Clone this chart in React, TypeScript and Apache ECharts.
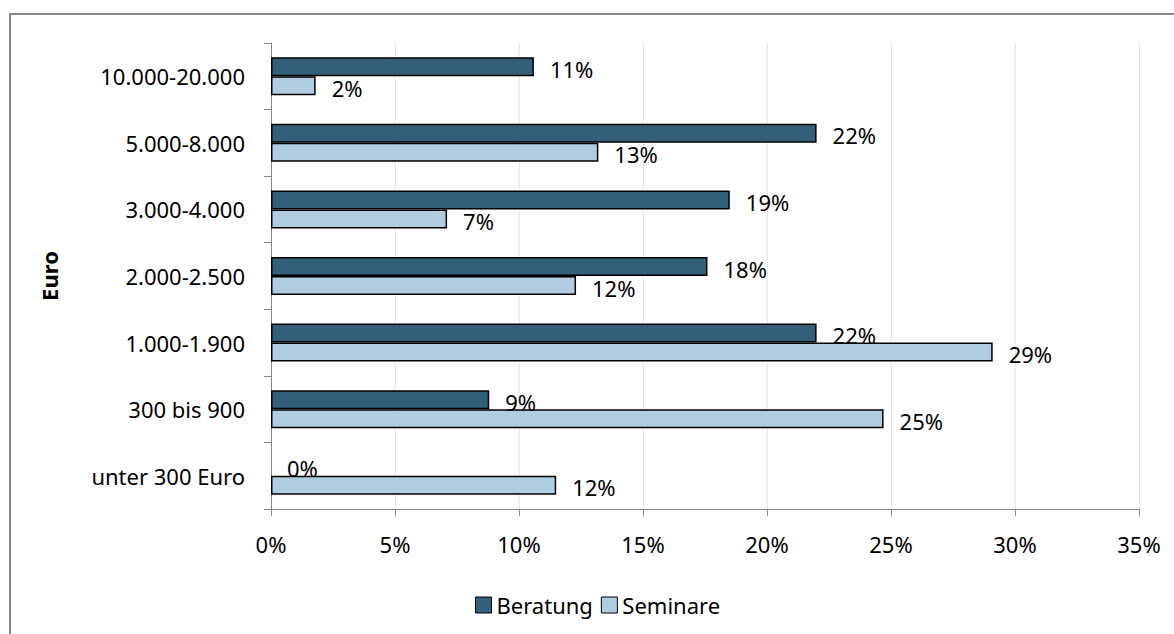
import React, { useEffect, useRef } from "react";
import * as echarts from "echarts";

const categories = [
  "unter 300 Euro",
  "300 bis 900",
  "1.000-1.900",
  "2.000-2.500",
  "3.000-4.000",
  "5.000-8.000",
  "10.000-20.000",
];
const beratung = [0, 8.8, 22.0, 17.6, 18.5, 22.0, 10.6];
const seminare = [11.5, 24.7, 29.1, 12.3, 7.1, 13.2, 1.8];
const seriesNames = ["Beratung", "Seminare"];
const axisTitle = "Euro";

const FONT = "'Noto Sans', sans-serif";
const AXIS_GRAY = "#868686";

const toData = (arr: number[]) =>
  arr.map((v) => (v === 0 ? { value: v, itemStyle: { borderWidth: 0 } } : v));

export default function App() {
  const ref = useRef<HTMLDivElement>(null);
  useEffect(() => {
    if (!ref.current) return;
    const chart = echarts.init(ref.current, null, { renderer: "svg" });
    const labelCfg = {
      show: true,
      position: "right",
      distance: 16,
      offset: [0, 2],
      color: "#000",
      fontSize: 22,
      fontFamily: FONT,
      formatter: (p: any) => `${Math.round(p.value)}%`,
    };
    chart.setOption({
      animation: false,
      textStyle: { fontFamily: FONT },
      graphic: [
        {
          type: "rect",
          shape: { x: 10, y: 14, width: 1300, height: 800 },
          style: { fill: "none", stroke: AXIS_GRAY, lineWidth: 2 },
          silent: true,
        },
      ],
      legend: {
        data: seriesNames,
        left: 470,
        top: 589,
        itemWidth: 16,
        itemHeight: 16,
        itemGap: 8,
        icon: "rect",
        itemStyle: { borderColor: "#000", borderWidth: 1 },
        textStyle: { fontSize: 22, color: "#000", fontFamily: FONT },
      },
      grid: { left: 271, right: 35, top: 43, bottom: 125, containLabel: false },
      xAxis: {
        type: "value",
        min: 0,
        max: 35,
        interval: 5,
        axisLine: { show: true, lineStyle: { color: AXIS_GRAY, width: 1 } },
        axisTick: { show: true, length: 7, lineStyle: { color: AXIS_GRAY } },
        splitLine: { show: true, lineStyle: { color: "#e6e6e6", width: 1 } },
        axisLabel: {
          formatter: "{value}%",
          fontSize: 22,
          color: "#000",
          margin: 24,
          fontFamily: FONT,
        },
      },
      yAxis: {
        type: "category",
        data: categories,
        name: axisTitle,
        nameLocation: "middle",
        nameRotate: 90,
        nameGap: 211,
        nameTextStyle: { fontSize: 22, fontWeight: "bold", color: "#000", fontFamily: FONT },
        axisLine: { show: true, lineStyle: { color: AXIS_GRAY, width: 1 } },
        axisTick: { show: true, length: 7, lineStyle: { color: AXIS_GRAY } },
        axisLabel: { fontSize: 22, color: "#000", margin: 26, fontFamily: FONT },
      },
      series: [
        {
          name: seriesNames[0],
          type: "bar",
          data: toData(beratung),
          barWidth: 19,
          barGap: "0%",
          itemStyle: { color: "#325F79", borderColor: "#000", borderWidth: 1.5 },
          label: labelCfg,
        },
        {
          name: seriesNames[1],
          type: "bar",
          data: toData(seminare),
          barWidth: 19,
          barGap: "0%",
          itemStyle: { color: "#B0CDE0", borderColor: "#000", borderWidth: 1.5 },
          label: labelCfg,
        },
      ],
    });
    return () => chart.dispose();
  }, []);
  return (
    <div
      ref={ref}
      style={{ position: "absolute", left: 0, top: 0, width: 1174, height: 634 }}
    />
  );
}
